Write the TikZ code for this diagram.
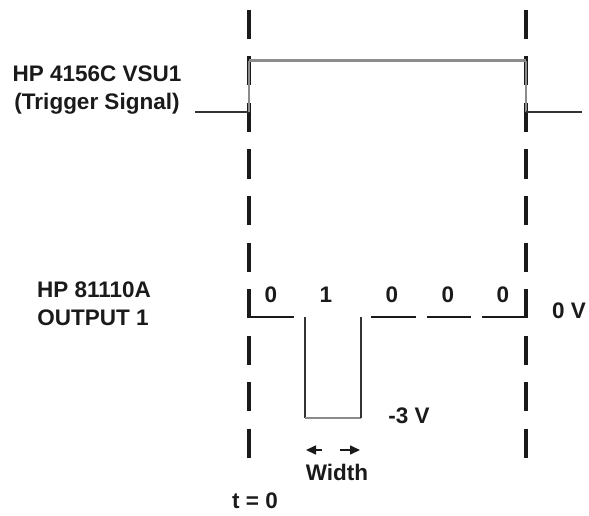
\documentclass[tikz,border=0pt]{standalone}
\usepackage{fontspec}
\setmainfont{Liberation Sans}
\usetikzlibrary{arrows.meta}
\definecolor{ink}{HTML}{1A1A1A}
\definecolor{rule}{HTML}{8C8C8C}
\definecolor{wire}{HTML}{333333}

\begin{document}
\begin{tikzpicture}[
  x=1pt, y=-1pt,
  every node/.style={font=\fontsize{22.5}{27}\selectfont\bfseries, text=ink, inner sep=0pt, anchor=base},
  marker/.style={draw=ink, line width=4pt, dash pattern=on 29pt off 17.5pt},
  trighi/.style={draw=rule, line width=3pt},
  triglo/.style={draw=wire, line width=1.6pt},
  bitline/.style={draw=ink, line width=1.8pt},
  edge/.style={draw=wire, line width=1.4pt},
  dim/.style={draw=ink, line width=1.6pt, -{Triangle[length=10pt,width=9pt]}}
]
  \useasboundingbox (0,0) rectangle (589,516);
  % time axis: t = 0 at \xa, end of window at \xb
  \def\xa{249}\def\xb{526}
  % trigger levels and output levels (0 V / -3 V)
  \def\yh{61}\def\yl{112}
  \def\yz{317}\def\ym{418}

  % Window markers
  \draw[marker] (\xa,10) -- (\xa,459);
  \draw[marker] (\xb,10) -- (\xb,459);

  % VSU1 trigger pulse
  \draw[triglo] (195,\yl) -- (\xa,\yl);
  \draw[edge, draw=rule] (\xa,\yl) -- (\xa,\yh);
  \draw[trighi] (\xa,\yh) -- (\xb,\yh);
  \draw[edge, draw=rule] (\xb,\yh) -- (\xb,\yl);
  \draw[triglo] (\xb,\yl) -- (582,\yl);

  % Output 1 bit pattern 0 1 0 0 0
  \draw[bitline] (\xa,\yz) -- (294,\yz);
  \draw[edge] (305,\yz) -- (305,\ym);
  \draw[bitline, draw=rule] (305,\ym) -- (361,\ym);
  \draw[edge] (361,\ym) -- (361,\yz);
  \draw[bitline] (371,\yz) -- (416,\yz);
  \draw[bitline] (427,\yz) -- (471,\yz);
  \draw[bitline] (482,\yz) -- (\xb,\yz);

  % Bit labels
  \node (b1) at (271,302) {0};
  \node (b2) at (326,302) {1};
  \node (b3) at (392,302) {0};
  \node (b4) at (448,302) {0};
  \node (b5) at (503,302) {0};

  % Levels
  \node (zeroV) at (569,318) {0 V};
  \node (minusV) at (409,423) {-3 V};

  % Pulse width
  \coordinate (wl) at (306,450);
  \coordinate (wr) at (360,450);
  \draw[dim] (322,450) -- (wl);
  \draw[dim] (340,450) -- (wr);
  \node (width) at (337,480) {Width};

  % Time origin
  \node (tzero) at (255,508) {t = 0};

  % Instrument labels
  \node (vsuA) at (97,82) {HP 4156C VSU1};
  \node (vsuB) at (97,110) {(Trigger Signal)};
  \node (pgA) at (94,297) {HP 81110A};
  \node (pgB) at (93,325) {OUTPUT 1};
\end{tikzpicture}
\end{document}
